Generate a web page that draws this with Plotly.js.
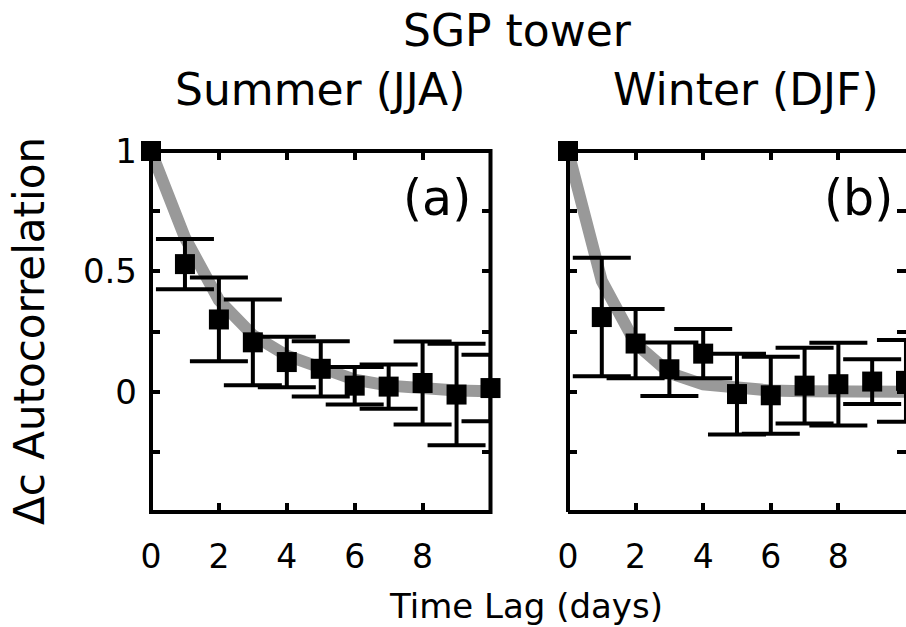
<!DOCTYPE html>
<html>
<head>
<meta charset="utf-8">
<script src="https://cdn.plot.ly/plotly-3.0.1.min.js"></script>
<style>html,body{margin:0;padding:0;background:#fff;}#chart{width:906px;height:627px;}</style>
</head>
<body>
<div id="chart"></div>
<script>
// ---- data ----
const lags = [0, 1, 2, 3, 4, 5, 6, 7, 8, 9, 10];
const summerVal = [1, 0.53, 0.30, 0.205, 0.123, 0.095, 0.025, 0.021, 0.036, -0.012, 0.015];
const summerErr = [0, 0.104, 0.174, 0.178, 0.105, 0.115, 0.078, 0.092, 0.172, 0.211, 0.138];
const summerFit = [1, 0.64, 0.38, 0.235, 0.15, 0.095, 0.05, 0.025, 0.012, 0.005, 0.002];
const winterVal = [1, 0.31, 0.20, 0.093, 0.158, -0.01, -0.015, 0.025, 0.031, 0.042, 0.045];
const winterErr = [0, 0.246, 0.144, 0.111, 0.102, 0.168, 0.16, 0.157, 0.172, 0.093, 0.17];
const winterFit = [1, 0.46, 0.2, 0.078, 0.03, 0.012, 0.005, 0.002, 0.001, 0, 0];
const xTickVals = [0, 2, 4, 6, 8, 10];
const xTickText = ['0', '2', '4', '6', '8', ''];
const yTickVals = [-0.5, -0.25, 0, 0.25, 0.5, 0.75, 1];
const yTickText = ['', '', '0', '', '0.5', '', '1'];
const mainTitle = 'SGP tower';
const panelTitles = ['Summer (JJA)', 'Winter (DJF)'];
const panelLabels = ['(a)', '(b)'];
const xLabel = 'Time Lag (days)';
const yLabel = '\u0394c Autocorrelation';

// ---- layout geometry (pixels) ----
const W = 906, H = 627;
const mL = 151, mR = 0, mT = 151, mB = 115;
const pw = W - mL - mR, ph = H - mT - mB;
const pxUnit = 33.95;
const leftEnd = 151 + 10 * pxUnit;
const rightStart = 568;
const px = x => (x - mL) / pw;
const py = y => (H - mB - y) / ph;
const FONT = 'DejaVu Sans';

function panelTraces(xa, ya, val, err, fit) {
  return [
    {x: lags, y: fit, xaxis: xa, yaxis: ya, type: 'scatter', mode: 'lines',
     line: {color: '#999999', width: 12}, hoverinfo: 'skip', showlegend: false},
    {x: lags, y: val, xaxis: xa, yaxis: ya, type: 'scatter', mode: 'markers',
     marker: {size: 1, color: 'rgba(0,0,0,0)'},
     error_y: {type: 'data', array: err, visible: true, color: '#000', thickness: 4, width: 29},
     cliponaxis: true, showlegend: false},
    {x: lags, y: val, xaxis: xa, yaxis: ya, type: 'scatter', mode: 'markers',
     marker: {symbol: 'square', size: 20, color: '#000'},
     cliponaxis: false, showlegend: false}
  ];
}

const data = [].concat(
  panelTraces('x', 'y', summerVal, summerErr, summerFit),
  panelTraces('x2', 'y2', winterVal, winterErr, winterFit)
);

const xCommon = {
  showline: false, zeroline: false, showgrid: false,
  ticks: 'inside', ticklen: 9, tickwidth: 4, tickcolor: '#000', mirror: 'ticks',
  tickmode: 'array', tickvals: xTickVals, ticktext: xTickText,
  tickfont: {family: FONT, size: 33, color: '#000'}, ticklabelstandoff: 22
};
const yCommon = {
  showline: false, zeroline: false, showgrid: false,
  ticks: 'inside', ticklen: 9, tickwidth: 4, tickcolor: '#000', mirror: 'ticks',
  tickmode: 'array', tickvals: yTickVals, ticktext: yTickText, range: [-0.5, 1],
  tickfont: {family: FONT, size: 34, color: '#000'}, ticklabelstandoff: 13
};

const d1 = px(leftEnd), d2 = px(rightStart);

const lineStyle = {color: '#000', width: 4};
const shapes = [
  {type: 'rect', xref: 'paper', yref: 'paper', x0: 0, x1: d1, y0: 0, y1: 1, line: lineStyle, layer: 'above'},
  {type: 'line', xref: 'paper', yref: 'paper', x0: d2, x1: d2, y0: 0, y1: 1, line: lineStyle, layer: 'above'},
  {type: 'line', xref: 'paper', yref: 'paper', x0: d2, x1: 1.01, y0: 1, y1: 1, line: lineStyle, layer: 'above'},
  {type: 'line', xref: 'paper', yref: 'paper', x0: d2, x1: 1.01, y0: 0, y1: 0, line: lineStyle, layer: 'above'}
];

const ann = (text, x, y, size, extra) => Object.assign({
  text: text, xref: 'paper', yref: 'paper', x: px(x), y: py(y),
  xanchor: 'center', yanchor: 'middle', showarrow: false,
  font: {family: FONT, size: size, color: '#000'}
}, extra || {});

const annotations = [
  ann(mainTitle, 517, 30, 44),
  ann(panelTitles[0], 320, 89, 44),
  ann(panelTitles[1], 746, 89, 44),
  ann(panelLabels[0], 437, 198, 49),
  ann(panelLabels[1], 858, 198, 49),
  ann(xLabel, 526, 606, 34),
  ann(yLabel, 29, 331, 42, {textangle: -90})
];

const layout = {
  width: W, height: H,
  margin: {l: mL, r: mR, t: mT, b: mB, pad: 0},
  paper_bgcolor: '#fff', plot_bgcolor: '#fff',
  showlegend: false,
  xaxis: Object.assign({}, xCommon, {domain: [0, d1], range: [0, 10], anchor: 'y'}),
  yaxis: Object.assign({}, yCommon, {anchor: 'x'}),
  xaxis2: Object.assign({}, xCommon, {domain: [d2, 1], range: [0, 10.001], anchor: 'y2'}),
  yaxis2: Object.assign({}, yCommon, {anchor: 'x2', showticklabels: false}),
  shapes: shapes,
  annotations: annotations
};

Plotly.newPlot('chart', data, layout, {displayModeBar: false, staticPlot: true});
</script>
</body>
</html>
